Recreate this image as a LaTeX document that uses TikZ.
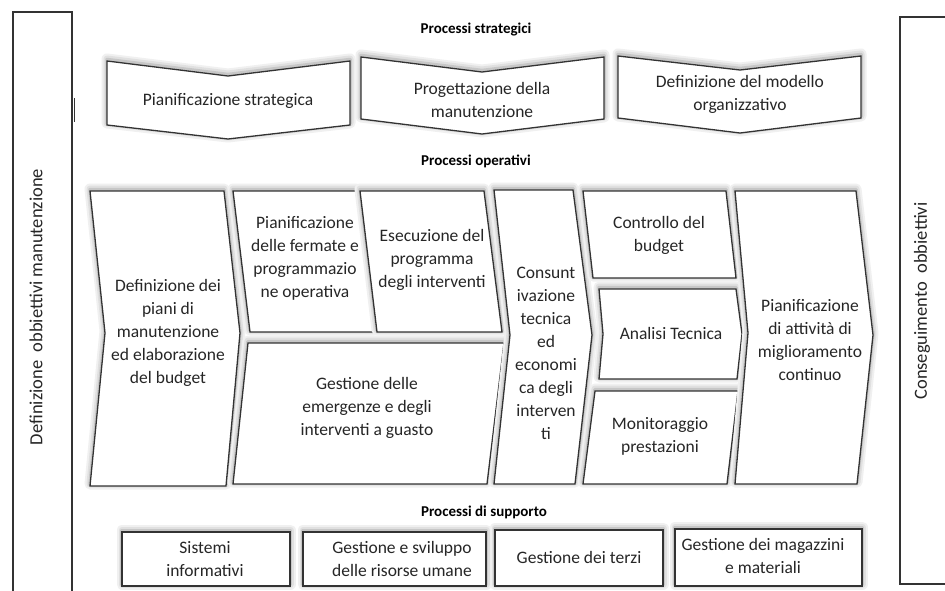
\documentclass[tikz,border=0pt]{standalone}
\usepackage{fontspec}
\setmainfont{Carlito}
\tikzset{
  shp/.style={draw=black!80, line width=1.3pt, fill=white, line join=miter,
    preaction={draw=black!6, line width=11pt, line join=round, fill=none, transform canvas={yshift=2pt}},
    preaction={draw=black!12, line width=7pt, line join=round, fill=none, transform canvas={yshift=2pt}},
    preaction={draw=black!22, line width=3.5pt, line join=round, fill=none, transform canvas={yshift=1.5pt}}},
  side/.style={draw=black!80, line width=1.3pt, fill=white},
  lbl/.style={align=center, font=\fontsize{17.5}{23}\selectfont, text=black!85, inner sep=0pt},
  sidelbl/.style={font=\fontsize{18.5}{22}\selectfont, text=black!85, inner sep=0pt, rotate=90},
  hdr/.style={font=\fontsize{15}{18}\selectfont\bfseries, inner sep=0pt},
}
\begin{document}
\begin{tikzpicture}[x=1pt,y=-1pt]
\useasboundingbox (0,0) rectangle (945,590);
\clip (0,0) rectangle (945,590);
\fill[white] (0,0) rectangle (945,590);
% side boxes
\draw[side] (13,12) rectangle (72,600);
\draw[side] (900,17) rectangle (960,584);
\draw[black!80, line width=1pt] (74,98) -- (74,122);
\node[sidelbl] (defobj) at (36,307) {Definizione~~obbiettivi manutenzione};
\node[sidelbl] (consobj) at (922,301) {Conseguimento~~obbiettivi};
% headers
\node[hdr] (hstrat) at (476,30) {Processi strategici};
\node[hdr] (hoper) at (476,161) {Processi operativi};
\node[hdr] (hsupp) at (484,512) {Processi di supporto};
% strategic chevrons
\draw[shp] (107,61) -- (228,76) -- (350,61) -- (350,125) -- (228,139) -- (107,125) -- cycle;
\draw[shp] (361,57) -- (482,72) -- (604,57) -- (604,119) -- (482,134) -- (361,119) -- cycle;
\draw[shp] (618,56) -- (740,70) -- (861,56) -- (861,118) -- (740,133) -- (618,118) -- cycle;
\node[lbl] (s1) at (228,101) {Pianificazione strategica};
\node[lbl] (s2) at (482,100) {Progettazione della\\manutenzione};
\node[lbl] (s3) at (740,94) {Definizione del modello\\organizzativo};
% operational
\draw[shp] (90,191) -- (224,191) -- (240,333) -- (226,486) -- (90,486) -- (105,333) -- cycle;
\draw[shp] (233,191) -- (356,191) -- (374,332) -- (250,332) -- cycle;
\draw[shp] (360,191) -- (484,191) -- (502,332) -- (377,332) -- cycle;
\draw[shp] (248,343) -- (504,343) -- (487,484) -- (233,484) -- cycle;
\draw[shp] (494,190) -- (573,190) -- (592,335) -- (575,484) -- (494,484) -- (510,335) -- cycle;
\draw[shp] (583,191) -- (726,191) -- (736,278) -- (593,278) -- cycle;
\draw[shp] (599,289) -- (736,289) -- (742,334) -- (737,379) -- (599,379) -- (603,334) -- cycle;
\draw[shp] (595,391) -- (738,391) -- (727,484) -- (583,484) -- cycle;
\draw[shp] (735,191) -- (856,191) -- (873,335) -- (857,484) -- (735,484) -- (748,333) -- cycle;
\node[lbl] (oa) at (168,333) {Definizione dei\\piani di\\manutenzione\\ed elaborazione\\del budget};
\node[lbl] (ob) at (305,258) {Pianificazione\\delle fermate e\\programmazio\\ne operativa};
\node[lbl] (oc) at (432,260) {Esecuzione del\\programma\\degli interventi};
\node[lbl] (od) at (367,408) {Gestione delle\\emergenze e degli\\interventi a guasto};
\node[lbl] (oe) at (546,353) {Consunt\\ivazione\\tecnica\\ed\\economi\\ca degli\\interven\\ti};
\node[lbl] (of) at (659,235) {Controllo del\\budget};
\node[lbl] (og) at (671,333) {Analisi Tecnica};
\node[lbl] (oi) at (660,436) {Monitoraggio\\prestazioni};
\node[lbl] (oh) at (810,340) {Pianificazione\\di attività di\\miglioramento\\continuo};
% support
\draw[shp] (122,532) rectangle (290,586);
\draw[shp] (303,532) rectangle (486,586);
\draw[shp] (495,530) rectangle (663,586);
\draw[shp] (675,529) rectangle (862,586);
\node[lbl] (p1) at (205,559) {Sistemi\\informativi};
\node[lbl] (p2) at (402,559) {Gestione e sviluppo\\delle risorse umane};
\node[lbl] (p3) at (579,557) {Gestione dei terzi};
\node[lbl] (p4) at (763,556) {Gestione dei magazzini\\e materiali};
\end{tikzpicture}
\end{document}
